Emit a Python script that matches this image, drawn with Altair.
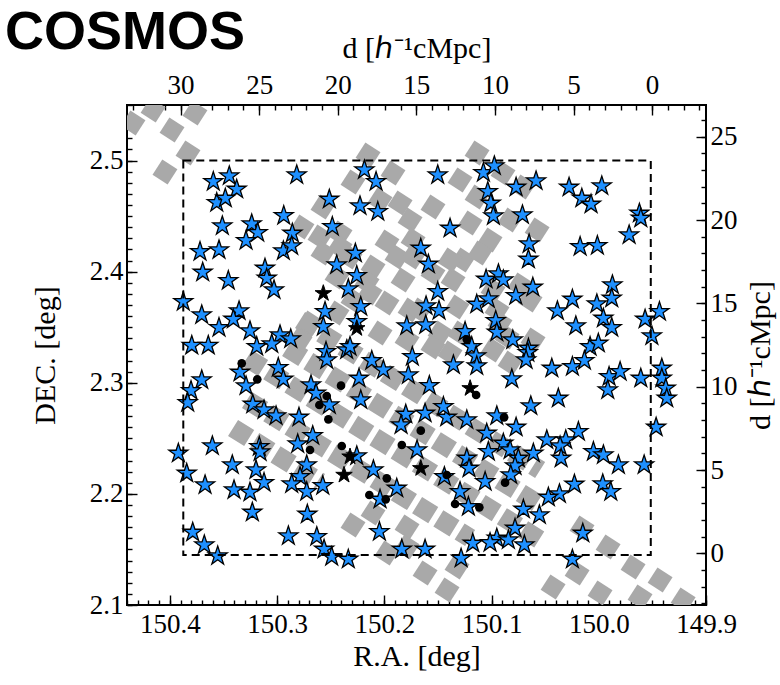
import altair as alt
import pandas as pd

# ---------------- data ----------------
star_ra = [
    150.3595, 150.3446, 150.3377, 150.3563, 150.3483, 150.2817, 150.3511, 150.3237, 150.3181, 150.3290,
    150.2938, 150.2858, 150.2942, 150.2864, 150.3719, 150.3542, 150.3694, 150.3455, 150.3113, 150.3097,
    150.3029, 150.2513, 150.2485, 150.2186, 150.2077, 150.2227, 150.2061, 150.2270, 150.2444, 150.2257,
    150.2336, 150.2553, 150.2569, 150.2220, 150.2257, 150.1791, 150.3875, 150.3703, 150.3542, 150.3355,
    150.3408, 150.3253, 150.2973, 150.2873, 150.3050, 150.3190, 150.3796, 150.3642,
    150.1502, 150.1076, 150.0974, 150.1035, 150.1007, 150.0983, 150.0771, 150.0585, 150.0712, 150.0277,
    150.0158, 150.0072, 149.9972, 149.9621, 149.9608, 149.9717, 150.0174, 150.0013, 150.1387, 150.1660,
    150.1589, 150.0650, 150.0656, 150.1051, 150.0936, 150.0890, 150.0615, 150.0774, 150.1030, 150.1138,
    150.1502, 150.1611, 150.1490, 150.1614, 150.1247, 150.0961, 150.0951, 150.0802, 150.0386, 150.0246,
    150.0214, 150.0018, 149.9873, 149.9879, 149.9957, 149.9879, 149.9568, 149.9434, 149.9505, 150.0081,
    150.0004, 150.0656,
    150.2544, 150.2537, 150.2351, 150.2320, 150.2117, 150.2009, 150.1739, 150.1776, 150.3346, 150.2989,
    150.2942, 150.3290, 150.3703, 150.3803, 150.3834, 150.3227, 150.3122, 150.3010, 150.2796, 150.2684,
    150.2637, 150.2513, 150.2236, 150.2220, 150.2668, 150.2808, 150.2257, 150.2724, 150.2786, 150.2864,
    150.2724, 150.2574, 150.2102, 150.1884, 150.2040, 150.1800, 150.1844, 150.1695, 150.3921, 150.3843,
    150.3604, 150.3418, 150.3166, 150.3159, 150.3197, 150.3672, 150.3402, 150.3253, 150.3122, 150.3231,
    150.2718, 150.2895, 150.2630, 150.2562, 150.2491, 150.2336, 150.3787, 150.3679, 150.3554, 150.2046,
    150.1837,
    150.1580, 150.1356, 150.1185, 150.1144, 150.1138, 150.0811, 150.0662, 150.0678, 150.0438, 150.0246,
    150.0134, 149.9904, 149.9801, 149.9916, 149.9608, 149.9412, 149.9412, 149.9375, 149.9366, 150.0377,
    150.0634, 149.9465, 150.0190, 150.0308, 150.0361, 150.0351, 150.0485, 150.0050, 149.9957, 149.9817,
    149.9577, 150.0610, 150.0771, 150.0951, 150.1231, 150.1418, 150.1449, 150.1620, 150.1440, 150.1231,
    150.1210, 150.1045, 150.1030, 150.0890, 150.0827, 150.0750, 150.0781, 150.1060, 150.0821, 150.1294,
    150.1216, 150.0227, 150.0367, 150.0470, 149.9963, 149.9888, 150.0703, 150.0554, 150.0781, 150.0951,
    150.1014, 150.0843, 150.0694, 150.1175, 150.1284, 150.1620, 150.0149, 150.0246,
]
star_dec = [
    2.4810, 2.4861, 2.4741, 2.4621, 2.4660, 2.4870, 2.4411, 2.4429, 2.4351, 2.4279,
    2.4504, 2.4345, 2.4186, 2.4231, 2.4180, 2.4195, 2.3994, 2.3919, 2.4030, 2.3940,
    2.3835, 2.4651, 2.4405, 2.4915, 2.4810, 2.4591, 2.4540, 2.4165, 2.4060, 2.3964,
    2.3844, 2.3640, 2.3505, 2.3685, 2.3550, 2.3511, 2.3730, 2.3610, 2.3496, 2.3646,
    2.3571, 2.3466, 2.3430, 2.3394, 2.3349, 2.3325, 2.3335, 2.3335,
    2.4870, 2.4891, 2.4951, 2.4720, 2.4615, 2.4501, 2.4759, 2.4816, 2.4510, 2.4759,
    2.4660, 2.4606, 2.4771, 2.4525, 2.4480, 2.4330, 2.4225, 2.4234, 2.4390, 2.4210,
    2.4066, 2.4249, 2.4111, 2.3931, 2.3979, 2.3925, 2.3859, 2.3784, 2.3754, 2.3706,
    2.3820, 2.3691, 2.3649, 2.3520, 2.3460, 2.3559, 2.3454, 2.3385, 2.3646, 2.3751,
    2.3511, 2.3709, 2.3880, 2.3760, 2.3580, 2.3496, 2.3571, 2.3640, 2.3421, 2.3325,
    2.3355, 2.3310,
    2.3280, 2.3205, 2.3295, 2.3325, 2.3199, 2.3115, 2.3235, 2.3070, 2.3094, 2.3136,
    2.3031, 2.2971, 2.3025, 2.2928, 2.2820, 2.2806, 2.2755, 2.2701, 2.2689, 2.2980,
    2.2905, 2.2800, 2.3040, 2.2845, 2.2523, 2.2449, 2.2341, 2.2260, 2.2154, 2.2089,
    2.2019, 2.2073, 2.2215, 2.2050, 2.1951, 2.2716, 2.2620, 2.2395, 2.2365, 2.2185,
    2.2431, 2.2260, 2.2425, 2.2377, 2.2215, 2.2080, 2.2035, 2.2014, 2.2101, 2.1834,
    2.1816, 2.1621, 2.1614, 2.1501, 2.1434, 2.1411, 2.1654, 2.1540, 2.1441, 2.1659,
    2.1501,
    2.2974, 2.3160, 2.3325, 2.3241, 2.3151, 2.3034, 2.3271, 2.3205, 2.3130, 2.3145,
    2.3199, 2.3055, 2.3100, 2.2935, 2.3040, 2.3130, 2.3040, 2.2950, 2.2860, 2.2860,
    2.2791, 2.2599, 2.2560, 2.2485, 2.2431, 2.2320, 2.2485, 2.2380, 2.2350, 2.2260,
    2.2260, 2.2365, 2.2599, 2.2701, 2.2665, 2.2689, 2.2785, 2.2725, 2.2154, 2.2320,
    2.2230, 2.2545, 2.2380, 2.2455, 2.2395, 2.2320, 2.2251, 2.2110, 2.2170, 2.2019,
    2.1885, 2.2086, 2.1999, 2.1969, 2.2089, 2.2019, 2.1861, 2.1810, 2.1690, 2.1600,
    2.1560, 2.1585, 2.1540, 2.1555, 2.1420, 2.1501, 2.1645, 2.1411,
]

bstar_ra = [150.2569, 150.2257, 150.2320, 150.2376, 150.1200, 150.1660]
bstar_dec = [2.3805, 2.3490, 2.2335, 2.2170, 2.2950, 2.2230]

dot_ra = [150.3330, 150.3185, 150.2537, 150.2606, 150.2522, 150.2404, 150.2693, 150.2397, 150.1977, 150.2140,
          150.1987, 150.1837, 150.1231, 150.1144, 150.0883, 150.1660, 150.1418, 150.0874, 150.1340, 150.1114]
dot_dec = [2.3175, 2.3031, 2.2881, 2.2800, 2.2671, 2.2974, 2.2395, 2.2431, 2.2140, 2.1990,
           2.1951, 2.2440, 2.3391, 2.2890, 2.2689, 2.2569, 2.2170, 2.2101, 2.1909, 2.1879]

# isolated grey squares
sq_ra = [
    150.4344, 150.4157, 150.3980, 150.3766, 150.3831, 150.4046,
    150.2152, 150.2292, 150.1919, 150.2040, 150.1760, 150.1975, 150.1732, 150.2768, 150.2572, 150.2600,
    150.2413, 150.2572, 150.2441, 150.2320, 150.2105, 150.2161, 150.1825, 150.1881, 150.2693, 150.2786,
    150.2441, 150.2292, 150.1975, 150.1760, 150.2040, 150.1788,
    150.1135, 150.1294, 150.1135, 150.1546, 150.1853, 150.1200, 150.1014, 150.0893, 150.0827, 150.0575,
    150.0706, 150.1732, 150.1546, 150.1359, 150.1266, 150.0986, 150.0734, 150.0641, 150.1667, 150.1480,
    150.0949, 150.0613, 150.1387, 150.1107, 150.1322, 150.1294, 150.1546, 150.1387, 150.0986, 150.0855,
    150.0827, 150.0921, 150.2413, 150.2133,
    150.2292, 150.2105, 150.1975, 150.1788, 150.1620, 150.1415, 150.1322, 150.1788,
    150.0156, 149.9913, 149.9680, 149.9428, 149.9213, 150.0426, 150.0202, 149.9988, 149.9615,
]
sq_dec = [
    2.5338, 2.5455, 2.5275, 2.5428, 2.5068, 2.4897,
    2.5050, 2.4807, 2.4888, 2.4645, 2.4465, 2.4267, 2.4285, 2.4402, 2.4582, 2.4312,
    2.4348, 2.4168, 2.3952, 2.4132, 2.4042, 2.3907, 2.3925, 2.4132, 2.3538, 2.3385,
    2.3628, 2.3745, 2.3718, 2.3655, 2.3448, 2.3385,
    2.5068, 2.4825, 2.4672, 2.4582, 2.4618, 2.4438, 2.4285, 2.4888, 2.4465, 2.4375,
    2.4762, 2.4132, 2.3988, 2.3925, 2.4105, 2.3835, 2.3880, 2.3745, 2.3655, 2.3448,
    2.3655, 2.3385, 2.4105, 2.4168, 2.3682, 2.3448, 2.3322, 2.3268, 2.3295, 2.3412,
    2.3178, 2.3538, 2.4222, 2.3808,
    2.1720, 2.1828, 2.1468, 2.1702, 2.1288, 2.1135, 2.1342, 2.1522,
    2.1693, 2.1522, 2.1342, 2.1225, 2.1045, 2.1162, 2.1288, 2.1108, 2.1072,
]

# dense grey bands of squares: start and end point of each band
band_id = ["Z0", "Z1", "Z2", "Z3", "Z4"]
band_ra0 = [150.2786, 150.3281, 150.2907, 150.3281, 150.3411]
band_dec0 = [2.3565, 2.3223, 2.3313, 2.2845, 2.2593]
band_ra1 = [150.0547, 150.0547, 150.0547, 150.1200, 150.2600]
band_dec1 = [2.2215, 2.1585, 2.1900, 2.1603, 2.2107]

box_ra = [150.3875, 149.9515]
box_dec = [2.145, 2.500]

ra_major = [150.4, 150.3, 150.2, 150.1, 150.0, 149.9]
ra_minor = [round(149.90 + 0.01 * i, 2) for i in range(55)]
dec_major = [2.1, 2.2, 2.3, 2.4, 2.5]
dec_minor = [round(2.10 + 0.01 * i, 2) for i in range(46)]
dtop_major = [0, 5, 10, 15, 20, 25, 30]
dtop_minor = list(range(-3, 34))
dright_major = [0, 5, 10, 15, 20, 25]
dright_minor = list(range(-3, 27))

# ---------------- scales ----------------
xs = alt.Scale(domain=[149.9, 150.44], reverse=True, nice=False, zero=False)
ys = alt.Scale(domain=[2.1, 2.55], nice=False, zero=False)
xs_d = alt.Scale(domain=[-3.43, 33.41], reverse=True, nice=False, zero=False)
ys_d = alt.Scale(domain=[-3.1, 26.9], nice=False, zero=False)

SERIF = "Liberation Serif"
GREY = "#a9a9a9"
STAR = ("M0,-1L0.2245,-0.309L0.9511,-0.309L0.3633,0.118L0.5878,0.809L0,0.382"
        "L-0.5878,0.809L-0.3633,0.118L-0.9511,-0.309L-0.2245,-0.309Z")

W, H = 579, 500


def X(field):
    return alt.X(f"{field}:Q", scale=xs, axis=None)


def Y(field):
    return alt.Y(f"{field}:Q", scale=ys, axis=None)


band_rows = []
for bid, a0, d0, a1, d1 in zip(band_id, band_ra0, band_dec0, band_ra1, band_dec1):
    band_rows.append({"bid": bid, "k": 0, "ra": a0, "dec": d0})
    band_rows.append({"bid": bid, "k": 1, "ra": a1, "dec": d1})

bands = alt.Chart(pd.DataFrame(band_rows)).mark_line(
    color=GREY, strokeWidth=19, strokeDash=[19, 6], strokeCap="butt", clip=True
).encode(x=X("ra"), y=Y("dec"), detail="bid:N", order="k:Q")

squares = alt.Chart(pd.DataFrame({"ra": sq_ra, "dec": sq_dec})).mark_point(
    shape="square", angle=33, size=324, filled=True, color=GREY, opacity=1, clip=True
).encode(x=X("ra"), y=Y("dec"))

stars = alt.Chart(pd.DataFrame({"ra": star_ra, "dec": star_dec})).mark_point(
    shape=STAR, filled=True, fill="#1e90ff", stroke="black", strokeWidth=1.3,
    size=400, opacity=1, fillOpacity=1, strokeOpacity=1, clip=True
).encode(x=X("ra"), y=Y("dec"))

dots = alt.Chart(pd.DataFrame({"ra": dot_ra, "dec": dot_dec})).mark_circle(
    color="black", size=75, opacity=1
).encode(x=X("ra"), y=Y("dec"))

bstars = alt.Chart(pd.DataFrame({"ra": bstar_ra, "dec": bstar_dec})).mark_point(
    shape=STAR, filled=True, fill="black", stroke="black", strokeWidth=1,
    size=300, opacity=1, fillOpacity=1
).encode(x=X("ra"), y=Y("dec"))

box = alt.Chart(pd.DataFrame({"ra1": [box_ra[0]], "ra2": [box_ra[1]],
                              "dec1": [box_dec[0]], "dec2": [box_dec[1]]})).mark_rect(
    fillOpacity=0, stroke="black", strokeWidth=2, strokeDash=[8, 5]
).encode(x=X("ra1"), x2="ra2:Q", y=Y("dec1"), y2="dec2:Q")

AX = dict(grid=False, domain=False, tickColor="black", labelColor="black", titleColor="black",
          labelFont=SERIF, titleFont=SERIF, labelFontSize=27, titleFontSize=30,
          titleFontWeight="normal", labelFlush=False, labelOverlap=False, tickWidth=1.4)


def axis_layer(vals, channel, scale, **kw):
    opts = dict(AX)
    opts.update(kw)
    df = pd.DataFrame({"v": vals})
    if channel == "x":
        enc = {"x": alt.X("v:Q", scale=scale, axis=alt.Axis(**opts))}
    else:
        enc = {"y": alt.Y("v:Q", scale=scale, axis=alt.Axis(**opts))}
    return alt.Chart(df).mark_point(opacity=0).encode(**enc)


D_TITLE = "d [\u210e\u207b\u00b9cMpc]"

bottom_major = axis_layer(ra_major, "x", xs, orient="bottom", values=ra_major, format=".1f",
                          tickSize=10, offset=-10, labelPadding=6, title="R.A. [deg]", titlePadding=4)
bottom_minor = axis_layer(ra_minor, "x", xs, orient="bottom", values=ra_minor, tickSize=5,
                          offset=-5, labels=False, title="")
left_major = axis_layer(dec_major, "y", ys, orient="left", values=dec_major, format=".1f",
                        tickSize=10, offset=-10, labelPadding=4, title="DEC. [deg]", titlePadding=29)
left_minor = axis_layer(dec_minor, "y", ys, orient="left", values=dec_minor, tickSize=5,
                        offset=-5, labels=False, title="")
top_major = axis_layer(dtop_major, "x", xs_d, orient="top", values=dtop_major, format="d",
                       tickSize=10, offset=-10, labelPadding=6, title=D_TITLE, titlePadding=8)
top_minor = axis_layer(dtop_minor, "x", xs_d, orient="top", values=dtop_minor, tickSize=5,
                       offset=-5, labels=False, title="")
right_major = axis_layer(dright_major, "y", ys_d, orient="right", values=dright_major, format="d",
                         tickSize=10, offset=-10, labelPadding=4, title=D_TITLE,
                         titlePadding=38, titleAngle=270)
right_minor = axis_layer(dright_minor, "y", ys_d, orient="right", values=dright_minor, tickSize=5,
                         offset=-5, labels=False, title="")

chart = alt.layer(
    bands, squares, stars, dots, bstars, box,
    bottom_minor, bottom_major, left_minor, left_major,
    top_minor, top_major, right_minor, right_major,
).resolve_scale(x="independent", y="independent").properties(
    width=W, height=H,
    title=alt.TitleParams("COSMOS", anchor="start", frame="group", font="Liberation Sans",
                          fontSize=54, fontWeight="bold", color="black", dx=-122, dy=31),
    autosize=alt.AutoSizeParams(type="none"),
    padding={"left": 127, "top": 105, "right": 74, "bottom": 80},
    background="white",
).configure_view(stroke="black", strokeWidth=2)

chart.save("out.html", embed_options={"renderer": "svg", "actions": False})
